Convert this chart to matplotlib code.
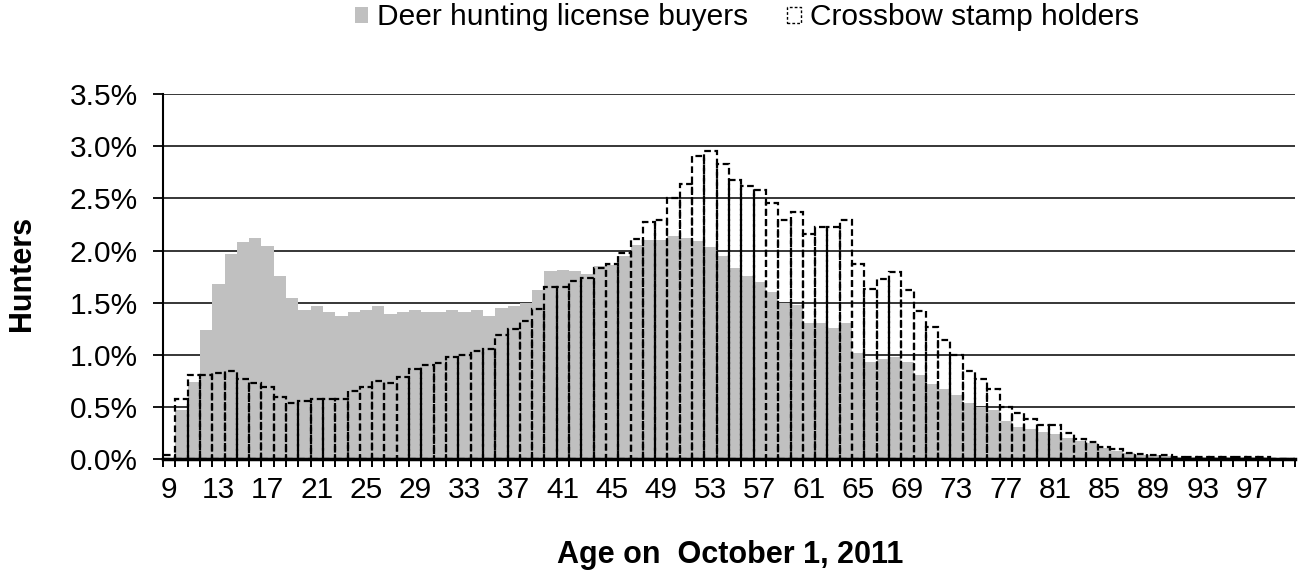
import matplotlib
matplotlib.use("Agg")
import matplotlib.pyplot as plt
from matplotlib.patches import Patch
import numpy as np

plt.rcParams["font.family"] = ["Liberation Sans", "DejaVu Sans"]

ages = list(range(9, 101))

# share of hunters by age, in percent
deer_buyers = [
    0.01, 0.47, 0.74, 1.24, 1.68, 1.97, 2.08, 2.12, 2.04, 1.76,   # 9-18
    1.55, 1.43, 1.47, 1.41, 1.37, 1.41, 1.43, 1.47, 1.39, 1.41,   # 19-28
    1.43, 1.41, 1.41, 1.43, 1.41, 1.43, 1.37, 1.45, 1.47, 1.50,   # 29-38
    1.62, 1.80, 1.81, 1.80, 1.78, 1.85, 1.86, 1.95, 2.05, 2.10,   # 39-48
    2.10, 2.14, 2.12, 2.09, 2.03, 1.95, 1.83, 1.76, 1.70, 1.60,   # 49-58
    1.50, 1.48, 1.31, 1.31, 1.26, 1.31, 1.02, 0.93, 0.96, 0.98,   # 59-68
    0.93, 0.81, 0.72, 0.67, 0.62, 0.54, 0.50, 0.47, 0.37, 0.31,   # 69-78
    0.29, 0.26, 0.24, 0.20, 0.18, 0.16, 0.11, 0.08, 0.06, 0.045,  # 79-88
    0.04, 0.03, 0.025, 0.02, 0.02, 0.02, 0.02, 0.02, 0.02, 0.02,  # 89-98
    0.015, 0.01,                                                  # 99-100
]

crossbow_holders = [
    0.04, 0.58, 0.81, 0.81, 0.83, 0.85, 0.77, 0.73, 0.69, 0.60,   # 9-18
    0.54, 0.56, 0.58, 0.58, 0.58, 0.65, 0.69, 0.75, 0.73, 0.79,   # 19-28
    0.87, 0.90, 0.92, 0.98, 1.00, 1.04, 1.06, 1.19, 1.25, 1.33,   # 29-38
    1.44, 1.65, 1.65, 1.71, 1.74, 1.83, 1.87, 1.98, 2.11, 2.27,   # 39-48
    2.29, 2.50, 2.64, 2.91, 2.95, 2.83, 2.68, 2.62, 2.58, 2.46,   # 49-58
    2.29, 2.37, 2.16, 2.23, 2.23, 2.29, 1.87, 1.63, 1.73, 1.79,   # 59-68
    1.62, 1.42, 1.27, 1.14, 1.00, 0.85, 0.77, 0.67, 0.50, 0.44,   # 69-78
    0.39, 0.33, 0.33, 0.25, 0.19, 0.17, 0.12, 0.10, 0.06, 0.05,   # 79-88
    0.04, 0.04, 0.025, 0.02, 0.02, 0.02, 0.02, 0.02, 0.02, 0.02,  # 89-98
    0.0, 0.0,                                                     # 99-100
]

y_ticks = np.arange(0, 3.51, 0.5)

fig = plt.figure(figsize=(12.99, 5.74), dpi=100)
ax = fig.add_axes([0.1255, 0.1998, 0.8714, 0.6364])

x = np.arange(len(ages))
ax.bar(x, deer_buyers, width=1.0, color="#c0c0c0", edgecolor="none", zorder=2,
       label="Deer hunting license buyers")
ax.bar(x, crossbow_holders, width=1.0, fill=False, edgecolor="black",
       linestyle=(0, (3, 1.6)), linewidth=1.6, zorder=3, label="Crossbow stamp holders")

ax.set_xlim(-0.5, len(ages) - 0.5)
ax.set_ylim(0, 3.5)
ax.set_yticks(y_ticks)
ax.set_yticklabels(["{:.1f}%".format(v) for v in y_ticks])
ax.yaxis.grid(True, color="black", linewidth=1.1)
ax.set_axisbelow(True)

# ticks between categories, labels every fourth age
ax.set_xticks(np.arange(-0.5, len(ages), 1.0))
ax.set_xticklabels([])
label_pos = x[::4]
ax.set_xticks(label_pos, [str(ages[i]) for i in label_pos], minor=True)
ax.tick_params(axis="x", which="major", length=6, width=1.4, direction="out")
ax.tick_params(axis="x", which="minor", length=0, pad=12, labelsize=21.5)
ax.tick_params(axis="y", length=7, width=1.3, pad=11, labelsize=21.5)

for side in ("top", "right"):
    ax.spines[side].set_visible(False)
ax.spines["left"].set_linewidth(1.5)
ax.spines["bottom"].set_linewidth(2.5)
ax.spines["bottom"].set_zorder(4)

fig.text(0.017, 0.524, "Hunters", rotation=90, ha="center", va="center",
         fontsize=22, fontweight="bold")
fig.text(0.562, 0.02, "Age on  October 1, 2011", ha="center", va="baseline",
         fontsize=22, fontweight="bold")

handles = [
    Patch(facecolor="#c0c0c0", edgecolor="none", label="Deer hunting license buyers"),
    Patch(fill=False, edgecolor="black", linestyle=(0, (2, 1.5)), linewidth=1.0,
          label="Crossbow stamp holders"),
]
fig.legend(handles=handles, loc="center", bbox_to_anchor=(0.575, 0.97), ncol=2,
           frameon=False, fontsize=21.5, handlelength=0.45, handleheight=0.45,
           handletextpad=0.3, columnspacing=1.3)

fig.savefig("out.png", dpi=100)
